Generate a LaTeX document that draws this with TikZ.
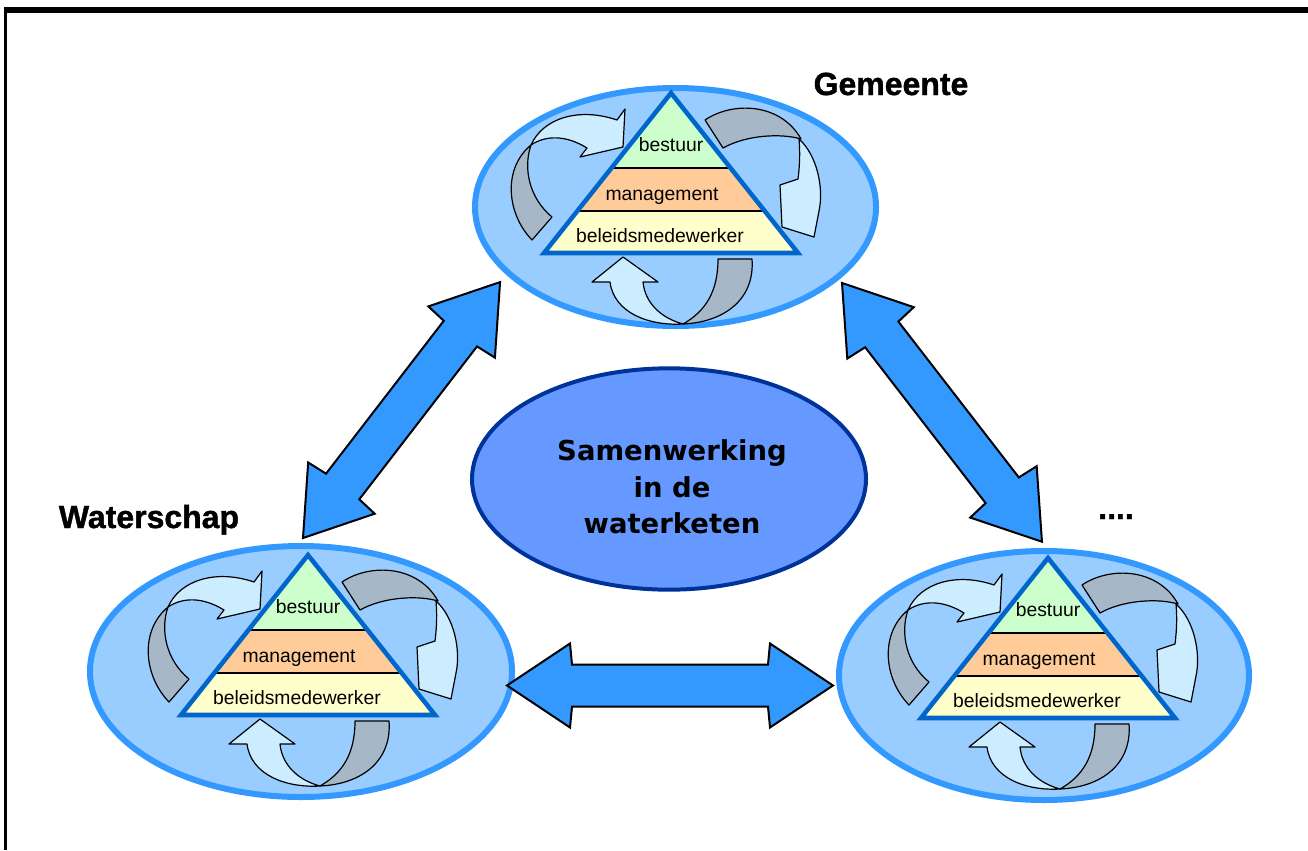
\documentclass[tikz,border=0pt]{standalone}
\usepackage{fontspec}
\setmainfont{Liberation Sans}
\newfontfamily\dvs{DejaVu Sans}
\newfontfamily\heavyfont{Liberation Sans}[BoldFeatures={FakeBold=1.2}]
\usetikzlibrary{shapes.geometric}
\definecolor{ellfill}{RGB}{153,204,255}
\definecolor{ellline}{RGB}{51,153,255}
\definecolor{tribord}{RGB}{0,102,204}
\definecolor{bgreen}{RGB}{204,255,204}
\definecolor{borange}{RGB}{255,204,153}
\definecolor{byellow}{RGB}{255,255,204}
\definecolor{arrlight}{RGB}{204,236,255}
\definecolor{arrgrey}{RGB}{166,184,199}
\definecolor{bigarrcol}{RGB}{51,153,255}
\definecolor{centfill}{RGB}{102,153,255}
\definecolor{centline}{RGB}{0,51,153}
\tikzset{
  grpell/.style={ellipse, draw=ellline, fill=ellfill, line width=4.5pt, inner sep=0pt},
  curvgrey/.style={fill=arrgrey, draw=black, line width=0.9pt, line join=round},
  curvlight/.style={fill=arrlight, draw=black, line width=0.9pt, line join=round},
  lab/.style={font=\fontsize{14.5}{16}\selectfont, anchor=base, inner sep=0pt},
  headlab/.style={font=\heavyfont\bfseries\fontsize{24}{28}\selectfont, anchor=base, inner sep=0pt},
  bigarr/.style={fill=bigarrcol, draw=black, line width=1.5pt, line join=miter},
}
% #1 name prefix, #2 #3 apex of triangle
\newcommand\tgroup[3]{%
  \begin{scope}[shift={(#2,#3)}]
    % left curved arrow
    \path[curvgrey] (-139,147) .. controls (-165,120) and (-168,75) .. (-140,52)
      .. controls (-148,75) and (-142,105) .. (-119,124) -- cycle;
    \path[curvlight] (-140,52) .. controls (-128,25) and (-92,14) .. (-54,27)
      -- (-46,16) -- (-48,54) -- (-91,64) -- (-84,55)
      .. controls (-105,42) and (-125,42) .. (-140,52) -- cycle;
    % right curved arrow
    \path[curvgrey] (34,27) .. controls (62,8) and (110,10) .. (130,46)
      .. controls (110,40) and (75,42) .. (52,55) -- cycle;
    \path[curvlight] (128,46) .. controls (146,62) and (153,95) .. (148,118)
      -- (143,144) -- (111,134) -- (109,92) -- (127,86)
      .. controls (129,70) and (129,58) .. (128,46) -- cycle;
    % bottom curved arrow
    \path[curvgrey] (47,166) -- (81,166) .. controls (84,205) and (55,229) .. (12,231)
      .. controls (35,218) and (47,198) .. (47,166) -- cycle;
    \path[curvlight] (12,231) .. controls (-22,233) and (-57,220) .. (-61,189)
      -- (-79,189) -- (-48,164) -- (-13,189) -- (-28,189)
      .. controls (-26,210) and (-10,225) .. (12,231) -- cycle;
    % pyramid
    \fill[bgreen] (0,0) -- (59.5,75) -- (-59.5,75) -- cycle;
    \fill[borange] (-59.5,75) -- (59.5,75) -- (93.7,118) -- (-93.7,118) -- cycle;
    \fill[byellow] (-93.7,118) -- (93.7,118) -- (127,160) -- (-127,160) -- cycle;
    \draw[line width=1pt] (-59.5,75) -- (59.5,75) (-93.7,118) -- (93.7,118);
    \draw[tribord, line width=3.4pt, line join=miter] (0,0) -- (127,160) -- (-127,160) -- cycle;
    \node[lab] (#1b) at (0,58) {bestuur};
    \node[lab] (#1m) at (-9,107) {management};
    \node[lab] (#1w) at (-11,149) {beleidsmedewerker};
  \end{scope}}
% double block arrow: #1 start coordinate, #2 angle, #3 length
\newcommand\dblarrow[3]{%
  \begin{scope}[shift={(#1)}, rotate=#2]
    \path[bigarr] (0,0) -- (63,42) -- (65,21) -- (#3-65,21) -- (#3-63,42) -- (#3,0)
      -- (#3-63,-42) -- (#3-65,-21) -- (65,-21) -- (63,-42) -- cycle;
  \end{scope}}
\begin{document}
\begin{tikzpicture}[x=0.75pt, y=-0.75pt]
  \useasboundingbox (0,0) rectangle (1308,850);
  \fill[white] (0,0) rectangle (1308,850);
  % frame
  \draw[line width=4.5pt] (4,10) -- (1308,10);
  \draw[line width=2.6pt] (5.5,8) -- (5.5,850);
  % group ellipses
  \node[grpell, minimum width=300.75pt, minimum height=178.5pt] (gemE) at (675.5,207) {};
  \node[grpell, minimum width=316.5pt, minimum height=188.25pt] (watE) at (301,671.5) {};
  \node[grpell, minimum width=307.5pt, minimum height=186.75pt] (dotE) at (1044,675.5) {};
  \tgroup{gem}{671}{93}
  \tgroup{wat}{308}{555}
  \tgroup{dot}{1048}{558}
  % centre
  \node[ellipse, draw=centline, fill=centfill, line width=3pt, inner sep=0pt,
        minimum width=295.5pt, minimum height=166pt] (samen) at (669,479) {};
  \node[font=\dvs\bfseries\fontsize{20.6}{27.4}\selectfont, align=center, inner sep=0pt]
        (samentxt) at (672,487) {Samenwerking\\in de\\waterketen};
  % big arrows
  \coordinate (aWG) at (303,538);
  \coordinate (aGD) at (842,283);
  \coordinate (aWD) at (507,685.5);
  \dblarrow{aWG}{52.4}{323}
  \dblarrow{aGD}{-52.3}{327}
  \dblarrow{aWD}{0}{326}
  % headings
  \node[headlab] (gemL) at (891,95) {Gemeente};
  \node[headlab] (watL) at (149,528) {Waterschap};
  \node[headlab] (dotL) at (1116,519) {....};
\end{tikzpicture}
\end{document}
